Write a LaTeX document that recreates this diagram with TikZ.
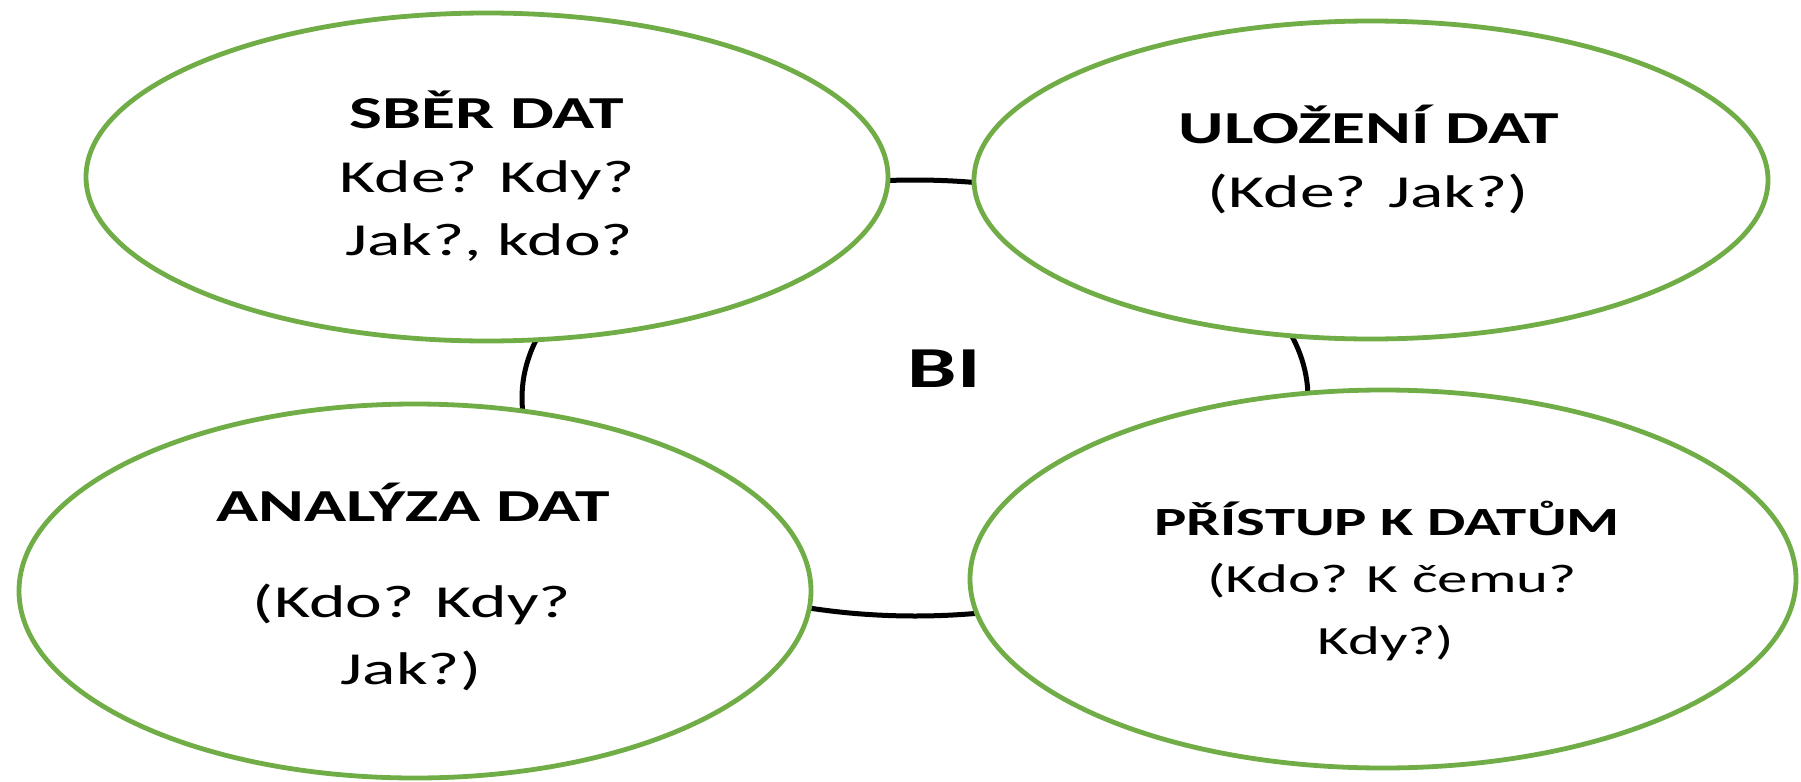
\documentclass[tikz,border=0pt]{standalone}
\usepackage{fontspec}
\setmainfont{Carlito}[FakeStretch=1.52]
\usetikzlibrary{shapes.geometric}
\definecolor{ogreen}{HTML}{70AD47}
\tikzset{
  bubble/.style={ellipse, draw=ogreen, line width=2.4pt, fill=white, inner sep=0pt},
  ringstyle/.style={ellipse, draw=black, line width=2.5pt, inner sep=0pt},
  txt/.style={font=\fontsize{22.9}{27}\selectfont, anchor=base, inner sep=0pt},
  head/.style={txt, font=\fontsize{22.9}{27}\selectfont\bfseries},
  stxt/.style={font=\fontsize{20}{24}\selectfont, anchor=base, inner sep=0pt},
  shead/.style={stxt, font=\fontsize{20}{24}\selectfont\bfseries},
  bitxt/.style={font=\fontsize{29}{32}\selectfont\bfseries, anchor=base, inner sep=0pt}
}
\begin{document}
\begin{tikzpicture}[x=0.5pt,y=-0.5pt]
\useasboundingbox (0,0) rectangle (1801,782);
\node[ringstyle, minimum width=393pt, minimum height=218pt] (ring) at (915,398) {};
\node[bubble, minimum width=401pt, minimum height=164pt] (sber) at (487,177) {};
\node[bubble, minimum width=397pt, minimum height=159pt] (ulozeni) at (1371,180) {};
\node[bubble, minimum width=396pt, minimum height=187pt] (analyza) at (415,591) {};
\node[bubble, minimum width=413pt, minimum height=189pt] (pristup) at (1383,579) {};
\node[bitxt] (bi) at (944,387) {BI};
\node[head] (sber1) at (487,128) {SBĚR DAT};
\node[txt] (sber2) at (487,192) {Kde? Kdy?};
\node[txt] (sber3) at (489,255) {Jak?, kdo?};
\node[head] (ul1) at (1369,143) {ULOŽENÍ DAT};
\node[txt] (ul2) at (1368,207) {(Kde? Jak?)};
\node[head] (an1) at (413,521) {ANALÝZA DAT};
\node[txt] (an2) at (412,617) {(Kdo? Kdy?};
\node[txt] (an3) at (411,684) {Jak?)};
\node[shead] (pr1) at (1387,535) {PŘÍSTUP K DATŮM};
\node[stxt] (pr2) at (1392,592) {(Kdo? K čemu?};
\node[stxt] (pr3) at (1386,654) {Kdy?)};
\end{tikzpicture}
\end{document}
